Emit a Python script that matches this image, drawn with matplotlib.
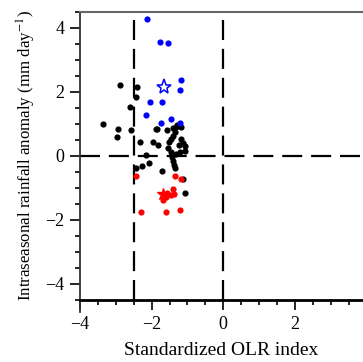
import matplotlib
matplotlib.use("Agg")
import matplotlib.pyplot as plt
from matplotlib.ticker import MultipleLocator

# points (standardized OLR index, rainfall anomaly)
black_x = [-2.89, -2.42, -2.43, -2.60, -3.35, -2.95, -2.98, -2.59, -2.33, -1.89,
           -1.95, -1.81, -1.57, -2.15, -2.44, -2.26, -2.06, -1.70, -1.32, -1.29,
           -1.35, -1.41, -1.47, -1.52, -1.19, -1.13, -1.07, -1.24, -1.54, -1.47,
           -1.33, -1.07, -1.22, -1.44, -1.41, -1.37, -1.35, -1.13, -1.08, -1.40,
           -1.18, -1.84]
black_y = [2.22, 2.17, 1.84, 1.53, 0.99, 0.83, 0.60, 0.80, 0.45, 0.83,
           0.44, 0.34, 0.80, 0.02, -0.39, -0.31, -0.21, -0.47, 0.91, 0.98,
           0.76, 0.63, 0.52, 0.45, 0.52, 0.42, 0.31, 0.34, 0.24, 0.13,
           0.05, 0.16, 0.13, -0.03, -0.16, -0.28, -0.39, -0.73, -1.15, 0.89,
           0.91, 0.83]

blue_x = [-2.14, -1.77, -1.55, -1.18, -1.21, -2.04, -1.70, -2.17, -1.75, -1.47, -1.22]
blue_y = [4.28, 3.57, 3.54, 2.38, 2.06, 1.70, 1.70, 1.27, 1.02, 1.17, 1.03]
blue_star = (-1.65, 2.15)

red_x = [-2.44, -1.36, -1.19, -1.40, -1.58, -1.47, -1.38, -1.69, -1.61, -2.29, -1.61, -1.21]
red_y = [-0.61, -0.61, -0.71, -1.04, -1.15, -1.22, -1.20, -1.39, -1.28, -1.76, -1.74, -1.70]
red_star = (-1.68, -1.18)

x_ticks = [-4, -2, 0, 2]
y_ticks = [-4, -2, 0, 2, 4]
x_lines = [-2.5, 0]

plt.rcParams["font.family"] = ["Liberation Serif", "DejaVu Serif"]
plt.rcParams["mathtext.fontset"] = "stix"

fig = plt.figure(figsize=(3.63, 3.62), dpi=100)
ax = fig.add_axes([80 / 363, 62 / 362, 1 - 80 / 363, 288 / 362])

dash = (0, (9, 4))
ax.axhline(0, color="black", lw=1.6, ls=dash, zorder=1)
for xv in x_lines:
    ax.axvline(xv, color="black", lw=1.6, ls=dash, zorder=1)

ax.scatter(black_x, black_y, s=20, color="black", zorder=3, linewidths=0)
ax.scatter(blue_x, blue_y, s=20, color="#0000ff", zorder=3, linewidths=0)
ax.scatter(red_x, red_y, s=20, color="#ff0000", zorder=3, linewidths=0)
ax.plot(*blue_star, marker="*", ms=11, mfc="white", mec="#0000ff", mew=1.1, zorder=4)
ax.plot(*red_star, marker="*", ms=9, color="#ff0000", zorder=4)

ax.set_xlim(-4, 3.9)
ax.set_ylim(-4.5, 4.5)
ax.set_xticks(x_ticks)
ax.set_yticks(y_ticks)
ax.set_xticklabels([str(v).replace("-", "\u2212") for v in x_ticks])
ax.set_yticklabels([str(v).replace("-", "\u2212") for v in y_ticks])
ax.xaxis.set_minor_locator(MultipleLocator(0.5))
ax.yaxis.set_minor_locator(MultipleLocator(0.5))
ax.tick_params(which="major", length=7.2, width=1.2, labelsize=13, pad=4)
ax.tick_params(which="minor", length=3.8, width=1.2)

ax.spines["right"].set_visible(False)
ax.spines["bottom"].set_linewidth(2)
ax.spines["left"].set_linewidth(1.3)
ax.spines["left"].set_color("#333333")
ax.spines["top"].set_linewidth(1.5)
ax.spines["top"].set_color("#666666")
# left spine runs a little below the x axis in the original
ax.plot([-4, -4], [-4.5, -4.87], color="#333333", lw=1.3, clip_on=False)

ax.set_xlabel("Standardized OLR index", fontsize=14, labelpad=7)
ax.set_ylabel("Intraseasonal rainfall anomaly (mm day$^{-1}$)", fontsize=12.2, labelpad=5)

fig.savefig("out.png", dpi=100)
